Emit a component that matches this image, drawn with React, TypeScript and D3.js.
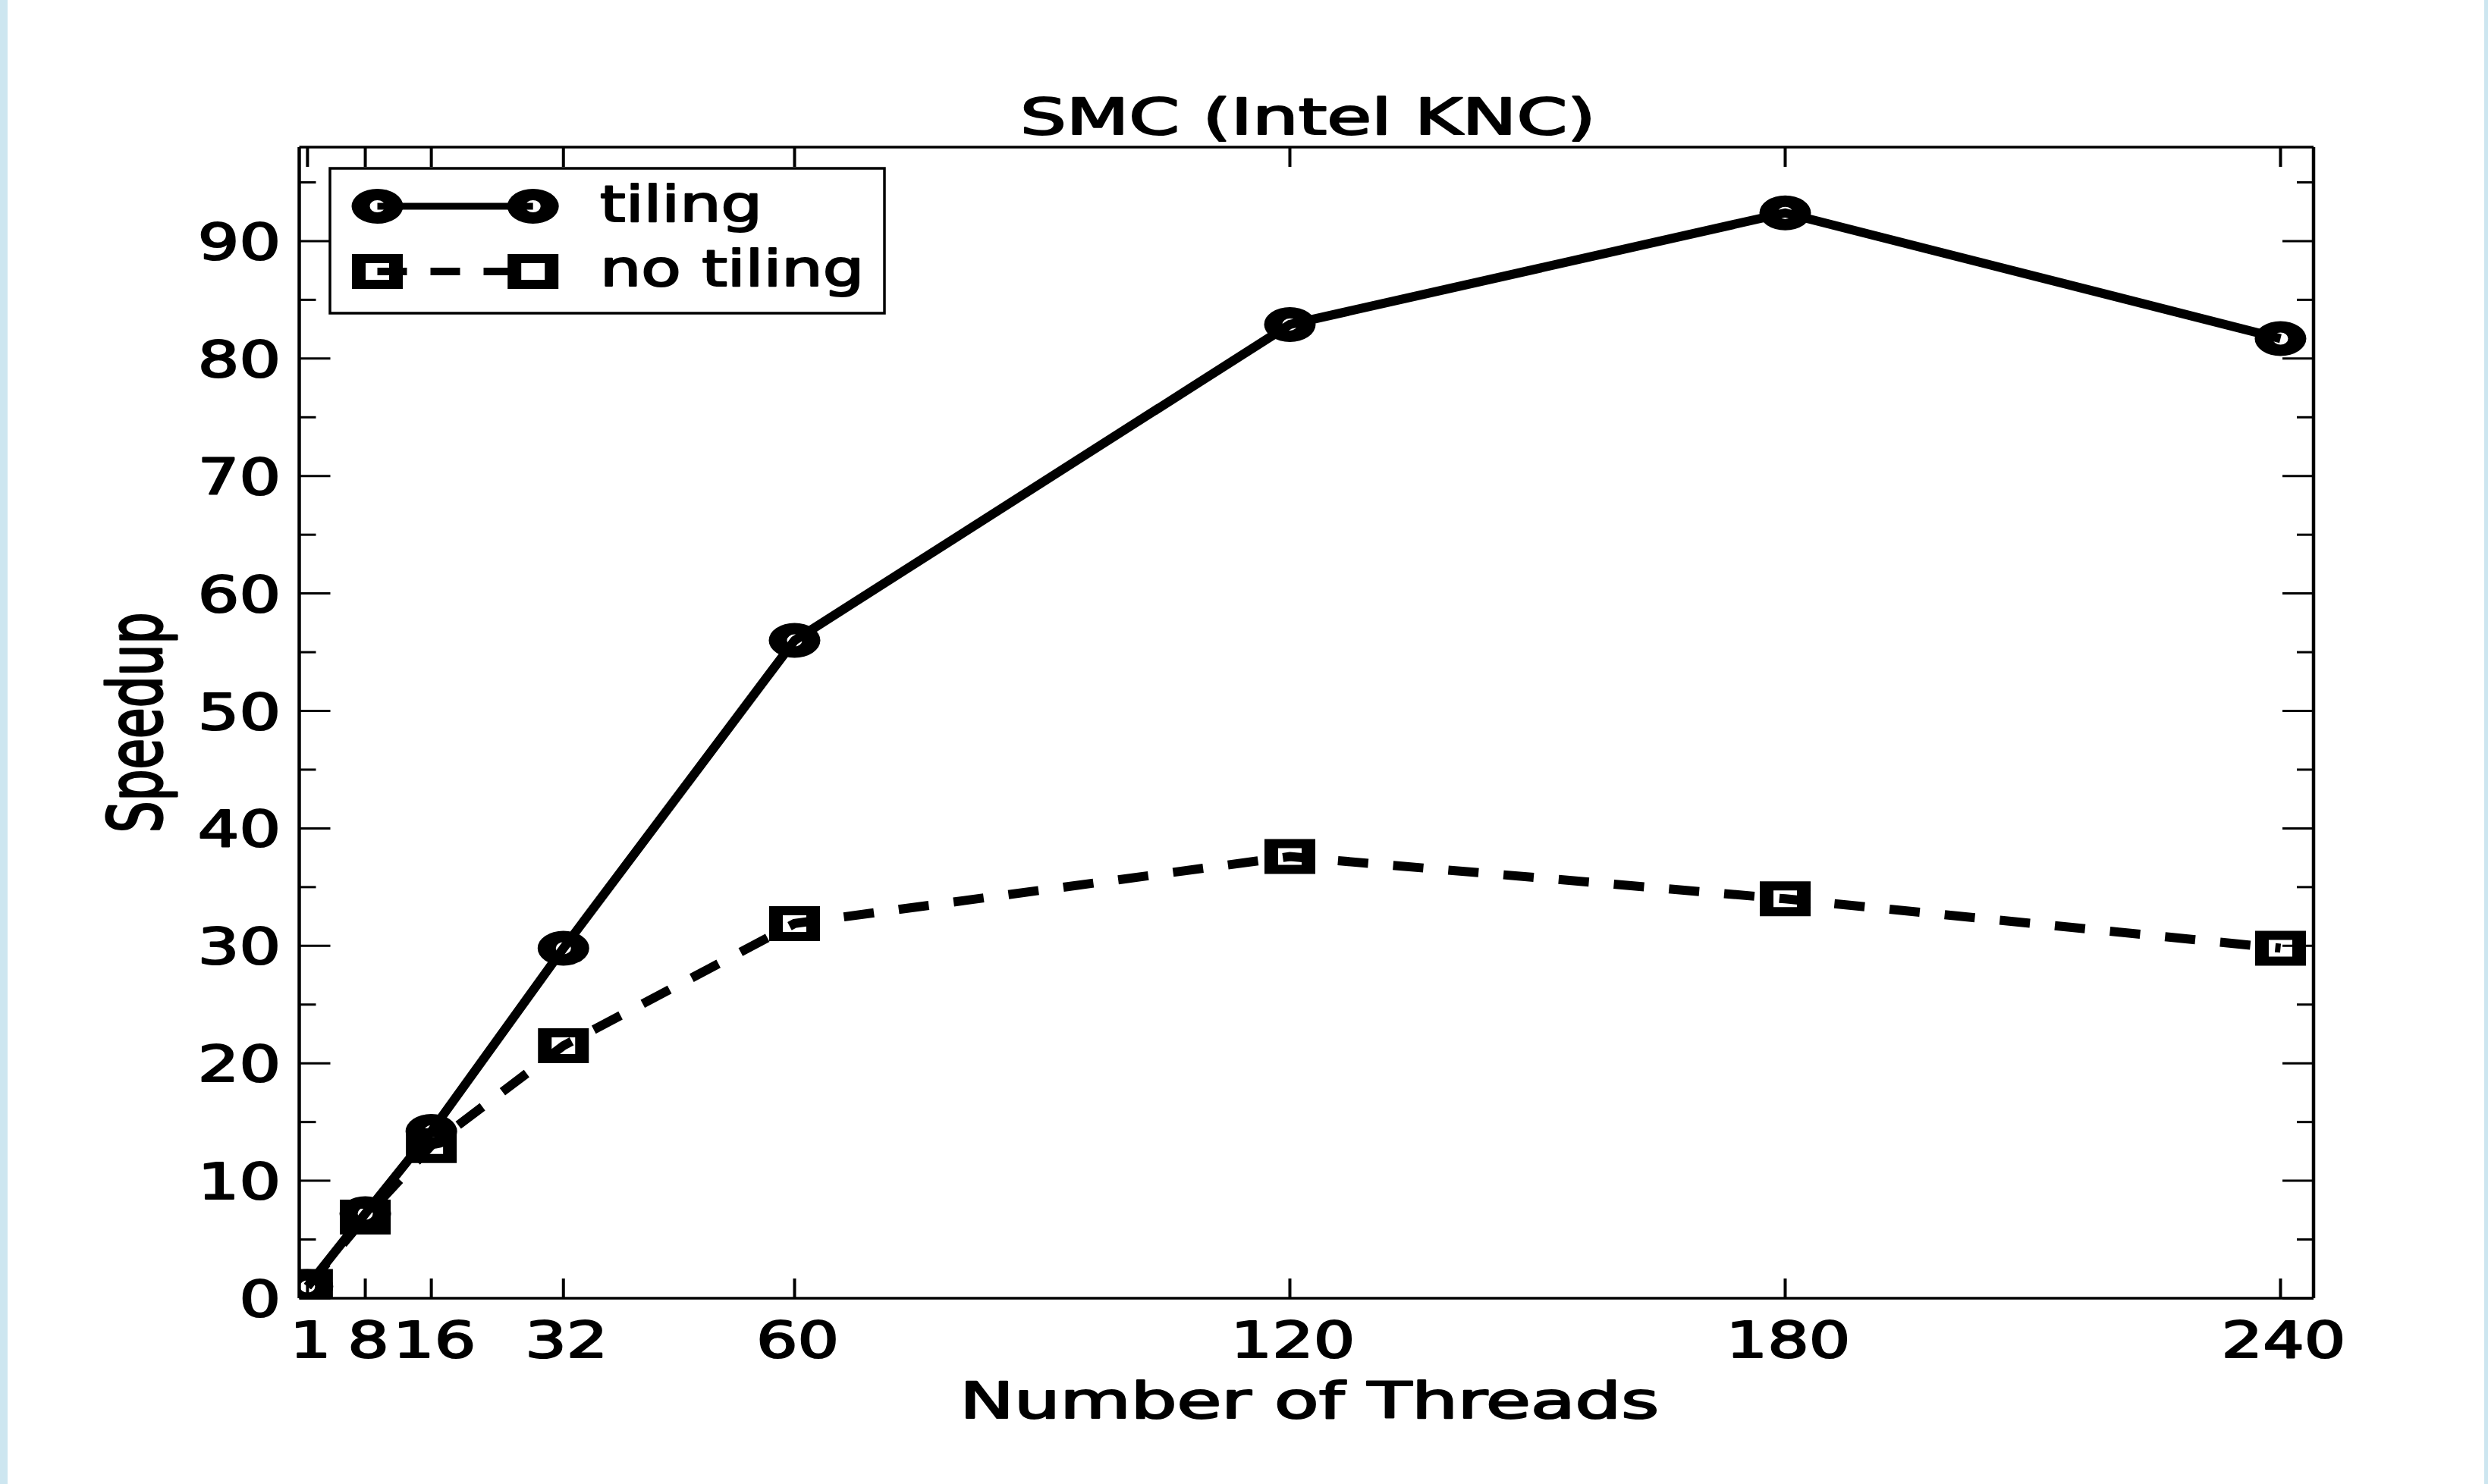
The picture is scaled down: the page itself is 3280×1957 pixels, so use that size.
import React from 'react';
import * as d3 from 'd3';

// data
const threads = [1, 8, 16, 32, 60, 120, 180, 240];
const tiling = [1, 7.2, 14.2, 29.8, 56.0, 82.9, 92.4, 81.7];
const noTiling = [1, 6.9, 13.0, 21.5, 31.9, 37.6, 34.0, 29.8];
const yMajor = [0, 10, 20, 30, 40, 50, 60, 70, 80, 90];
const yMinor = [5, 15, 25, 35, 45, 55, 65, 75, 85, 95];
const seriesNames = ['tiling', 'no tiling'];
const title = 'SMC (Intel KNC)';
const xTitle = 'Number of Threads';
const yTitle = 'Speedup';

const W = 3280, H = 1957;
const left = 394.5, right = 3050, top = 194, bottom = 1712;
const FONT = '"DejaVu Sans", sans-serif';
const FS = 66;

// marker rings (hollow, so the line shows through like the original)
const ellipseRing = (cx: number, cy: number) => {
  const ring = (rx: number, ry: number) =>
    `M${cx - rx},${cy}a${rx},${ry} 0 1,0 ${2 * rx},0a${rx},${ry} 0 1,0 ${-2 * rx},0Z`;
  return ring(34, 23) + ring(10, 8);
};
const squareRing = (cx: number, cy: number) =>
  `M${cx - 33.5},${cy - 23}h67v46h-67Z` + `M${cx - 15.5},${cy - 11}h31v22h-31Z`;

export default function App() {
  const x = d3.scaleLinear().domain([0, 244]).range([left, right]);
  const y = d3.scaleLinear().domain([0, 98]).range([bottom, top]);

  const line = d3.line<number>()
    .x((_, i) => x(threads[i]))
    .y(d => y(d));

  const tickX = 1.3; // horizontal stretch of the small text
  const labelX = 1.45;
  const textStroke = { stroke: '#000', strokeWidth: 2.2, strokeLinejoin: 'round' as const };

  return (
    <svg width={W} height={H} style={{ position: 'absolute', left: 0, top: 0, background: '#fff' }}>
      <rect x={0} y={0} width={W} height={H} fill="#fff" />
      <rect x={0} y={0} width={10} height={H} fill="#cde6f0" />
      <rect x={W - 5} y={0} width={5} height={H} fill="#cde6f0" />

      <defs>
        <clipPath id="plotclip">
          <rect x={left} y={top} width={right - left} height={bottom - top} />
        </clipPath>
      </defs>

      <g clipPath="url(#plotclip)">
        <path d={line(tiling) || ''} fill="none" stroke="#000" strokeWidth={12} strokeLinejoin="round" />
        <path d={line(noTiling) || ''} fill="none" stroke="#000" strokeWidth={12} strokeDasharray="40 33" />
        {tiling.map((v, i) => (
          <path key={'c' + i} d={ellipseRing(x(threads[i]), y(v))} fill="#000" fillRule="evenodd" />
        ))}
        {noTiling.map((v, i) => (
          <path key={'s' + i} d={squareRing(x(threads[i]), y(v))} fill="#000" fillRule="evenodd" />
        ))}
      </g>

      {/* ticks, inward on all four sides */}
      <g stroke="#000">
        {threads.map(t => (
          <g key={'xt' + t}>
            <line x1={x(t)} x2={x(t)} y1={bottom} y2={bottom - 26} strokeWidth={4} />
            <line x1={x(t)} x2={x(t)} y1={top} y2={top + 26} strokeWidth={4} />
          </g>
        ))}
        {yMajor.map(v => (
          <g key={'ym' + v}>
            <line x1={left} x2={left + 41} y1={y(v)} y2={y(v)} strokeWidth={3} />
            <line x1={right} x2={right - 41} y1={y(v)} y2={y(v)} strokeWidth={3} />
          </g>
        ))}
        {yMinor.map(v => (
          <g key={'yn' + v}>
            <line x1={left} x2={left + 22} y1={y(v)} y2={y(v)} strokeWidth={3} />
            <line x1={right} x2={right - 22} y1={y(v)} y2={y(v)} strokeWidth={3} />
          </g>
        ))}
        {/* frame */}
        <line x1={left} x2={right} y1={top} y2={top} strokeWidth={3.5} />
        <line x1={left} x2={right} y1={bottom} y2={bottom} strokeWidth={3.5} />
        <line x1={left} x2={left} y1={top} y2={bottom} strokeWidth={4.5} />
        <line x1={right} x2={right} y1={top} y2={bottom} strokeWidth={4.5} />
      </g>

      {/* tick labels and titles */}
      <g fontFamily={FONT} fontSize={FS} fill="#000" {...textStroke}>
        {yMajor.map(v => (
          <text key={'yl' + v} transform={`translate(370,${y(v) + 24}) scale(${tickX},1)`} textAnchor="end">
            {v}
          </text>
        ))}
        {threads.map(t => (
          <text key={'xl' + t} transform={`translate(${x(t) + 4},1790) scale(${tickX},1)`} textAnchor="middle">
            {t}
          </text>
        ))}
        <text transform={`translate(${(left + right) / 2 + 2},177) scale(${labelX},1)`} textAnchor="middle">
          {title}
        </text>
        <text transform={`translate(${(left + right) / 2 + 4},1870) scale(${labelX},1)`} textAnchor="middle">
          {xTitle}
        </text>
        <text transform={`translate(213,${(top + bottom) / 2}) scale(1.48,1) rotate(-90)`} textAnchor="middle">
          {yTitle}
        </text>
      </g>

      {/* legend */}
      <g>
        <rect x={435} y={222} width={731} height={191} fill="#fff" stroke="#000" strokeWidth={3.5} />
        <line x1={497.5} x2={702.7} y1={272} y2={272} stroke="#000" strokeWidth={9} />
        <path d={ellipseRing(497.5, 272)} fill="#000" fillRule="evenodd" />
        <path d={ellipseRing(702.7, 272)} fill="#000" fillRule="evenodd" />
        <line x1={497.5} x2={702.7} y1={358} y2={358} stroke="#000" strokeWidth={10} strokeDasharray="39 31" />
        <path d={squareRing(497.5, 358)} fill="#000" fillRule="evenodd" />
        <path d={squareRing(702.7, 358)} fill="#000" fillRule="evenodd" />
        <g fontFamily={FONT} fontSize={FS} fill="#000" {...textStroke}>
          <text transform={`translate(791,292) scale(${tickX},1)`}>{seriesNames[0]}</text>
          <text transform={`translate(791,377) scale(${tickX},1)`}>{seriesNames[1]}</text>
        </g>
      </g>
    </svg>
  );
}
